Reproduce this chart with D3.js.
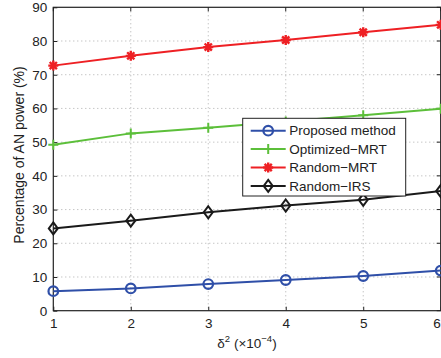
<!DOCTYPE html>
<html lang="en">
<head>
  <meta charset="UTF-8">
  <title>AN power</title>
  <style>
    body, html {
      margin: 0;
      padding: 0;
      background-color: #fff;
    }
    svg text {
      font-family: 'Liberation Sans', Arial, Helvetica, sans-serif;
    }
  </style>
</head>
<body>
  <svg id="svg" width="441" height="358"></svg>
  <script src="https://d3js.org/d3.v7.min.js"></script>
  <script>
    const xValues = [1, 2, 3, 4, 5, 6]
    const xTicks = [1, 2, 3, 4, 5, 6]
    const yTicks = [0, 10, 20, 30, 40, 50, 60, 70, 80, 90]
    const seriesNames = ['Proposed method', 'Optimized\u2212MRT', 'Random\u2212MRT', 'Random\u2212IRS']
    const proposed = [5.8, 6.6, 7.9, 9.1, 10.3, 11.9]
    const optimizedMRT = [49.2, 52.6, 54.3, 56.1, 58.0, 59.9]
    const randomMRT = [72.7, 75.6, 78.2, 80.3, 82.6, 84.8]
    const randomIRS = [24.4, 26.7, 29.2, 31.2, 32.9, 35.5]

    const series = [
      { name: seriesNames[0], values: proposed, color: '#2f4fa8', marker: 'circle' },
      { name: seriesNames[1], values: optimizedMRT, color: '#5cbf3a', marker: 'plus' },
      { name: seriesNames[2], values: randomMRT, color: '#ee2024', marker: 'star' },
      { name: seriesNames[3], values: randomIRS, color: '#1a1a1a', marker: 'diamond' }
    ]

    const mLeft = 53.3, mRight = 440.7, mTop = 7.3, mBottom = 310.7

    const xScale = d3.scaleLinear().domain([1, 6]).range([mLeft, mRight])
    const yScale = d3.scaleLinear().domain([0, 90]).range([mBottom, mTop])

    const svg = d3.select('#svg')

    // grid
    svg.append('g')
      .selectAll('line')
      .data(xTicks.slice(1, -1))
      .enter()
      .append('line')
      .attr('x1', d => xScale(d)).attr('x2', d => xScale(d))
      .attr('y1', mTop).attr('y2', mBottom)
      .attr('stroke', '#999').attr('stroke-width', 0.8)
      .attr('stroke-dasharray', '1,3')
    svg.append('g')
      .selectAll('line')
      .data(yTicks.slice(1, -1))
      .enter()
      .append('line')
      .attr('x1', mLeft).attr('x2', mRight)
      .attr('y1', d => yScale(d)).attr('y2', d => yScale(d))
      .attr('stroke', '#999').attr('stroke-width', 0.8)
      .attr('stroke-dasharray', '1,3')

    // axes
    const bottomAxis = d3.axisBottom(xScale).tickValues(xTicks).tickFormat(d3.format('d')).tickSize(-4).tickPadding(8)
    const leftAxis = d3.axisLeft(yScale).tickValues(yTicks).tickFormat(d3.format('d')).tickSize(-4).tickPadding(6)
    const gx = svg.append('g')
      .attr('transform', `translate(0, ${mBottom})`)
      .call(bottomAxis)
    const gy = svg.append('g')
      .attr('transform', `translate(${mLeft}, 0)`)
      .call(leftAxis)
    ;[gx, gy].forEach(g => {
      g.select('.domain').remove()
      g.selectAll('line').attr('stroke', '#222')
      g.selectAll('text')
        .style('font-size', '13.5px')
        .attr('fill', '#222')
    })
    // last x label would fall off the window edge, pull it inside
    gx.selectAll('text').filter(d => d === 6).attr('text-anchor', 'end').attr('dx', -0.5)

    // top and right ticks
    svg.append('g').selectAll('line').data(xTicks).enter().append('line')
      .attr('x1', d => xScale(d)).attr('x2', d => xScale(d))
      .attr('y1', mTop).attr('y2', mTop + 4).attr('stroke', '#222')
    svg.append('g').selectAll('line').data(yTicks).enter().append('line')
      .attr('x1', mRight - 4).attr('x2', mRight)
      .attr('y1', d => yScale(d)).attr('y2', d => yScale(d)).attr('stroke', '#222')

    svg.append('rect')
      .attr('x', mLeft).attr('y', mTop)
      .attr('width', mRight - mLeft).attr('height', mBottom - mTop)
      .attr('fill', 'none').attr('stroke', '#222').attr('stroke-width', 1.2)

    function drawMarker(g, type, color) {
      if (type === 'circle') {
        g.append('circle').attr('r', 4.8)
          .attr('fill', 'none').attr('stroke', color).attr('stroke-width', 2.2)
      } else if (type === 'plus') {
        g.append('path').attr('d', 'M-5,0H5M0,-5V5')
          .attr('stroke', color).attr('stroke-width', 2)
      } else if (type === 'star') {
        g.append('path').attr('d', 'M-5,0H5M0,-5V5M-3.6,-3.6L3.6,3.6M-3.6,3.6L3.6,-3.6')
          .attr('stroke', color).attr('stroke-width', 2.4)
      } else if (type === 'diamond') {
        g.append('path').attr('d', 'M0,-6L4.5,0L0,6L-4.5,0Z')
          .attr('fill', 'none').attr('stroke', color).attr('stroke-width', 2)
      }
    }

    const line = d3.line()
      .x((d, i) => xScale(xValues[i]))
      .y(d => yScale(d))

    series.forEach(s => {
      svg.append('path')
        .attr('d', line(s.values))
        .attr('fill', 'none')
        .attr('stroke', s.color)
        .attr('stroke-width', 2)
      s.values.forEach((v, i) => {
        const g = svg.append('g')
          .attr('transform', `translate(${xScale(xValues[i])}, ${yScale(v)})`)
        drawMarker(g, s.marker, s.color)
      })
    })

    // legend
    const legend = svg.append('g').attr('transform', 'translate(242.7, 118.3)')
    legend.append('rect')
      .attr('width', 163).attr('height', 77.7)
      .attr('fill', '#fff').attr('stroke', '#222').attr('stroke-width', 1)
    series.forEach((s, i) => {
      const y = 12.4 + i * 18.4
      legend.append('line')
        .attr('x1', 8).attr('x2', 43).attr('y1', y).attr('y2', y)
        .attr('stroke', s.color).attr('stroke-width', 2)
      drawMarker(legend.append('g').attr('transform', `translate(25.5, ${y})`), s.marker, s.color)
      legend.append('text')
        .attr('x', 46.5).attr('y', y + 4.8)
        .style('font-size', '13.5px')
        .attr('fill', '#222')
        .text(s.name)
    })

    // axis labels
    svg.append('text')
      .attr('transform', `translate(24, 155) rotate(-90)`)
      .attr('text-anchor', 'middle')
      .style('font-size', '14px')
      .attr('fill', '#222')
      .text('Percentage of AN power (%)')

    const xl = svg.append('text')
      .attr('x', 247).attr('y', 348)
      .attr('text-anchor', 'middle')
      .style('font-size', '13.5px')
      .attr('fill', '#222')
    xl.append('tspan').text('\u03b4')
    xl.append('tspan').attr('dy', -6).style('font-size', '9.5px').text('2')
    xl.append('tspan').attr('dy', 6).text(' (\u00d710')
    xl.append('tspan').attr('dy', -6).style('font-size', '9.5px').text('\u22124')
    xl.append('tspan').attr('dy', 6).text(')')
  </script>
</body>
</html>
